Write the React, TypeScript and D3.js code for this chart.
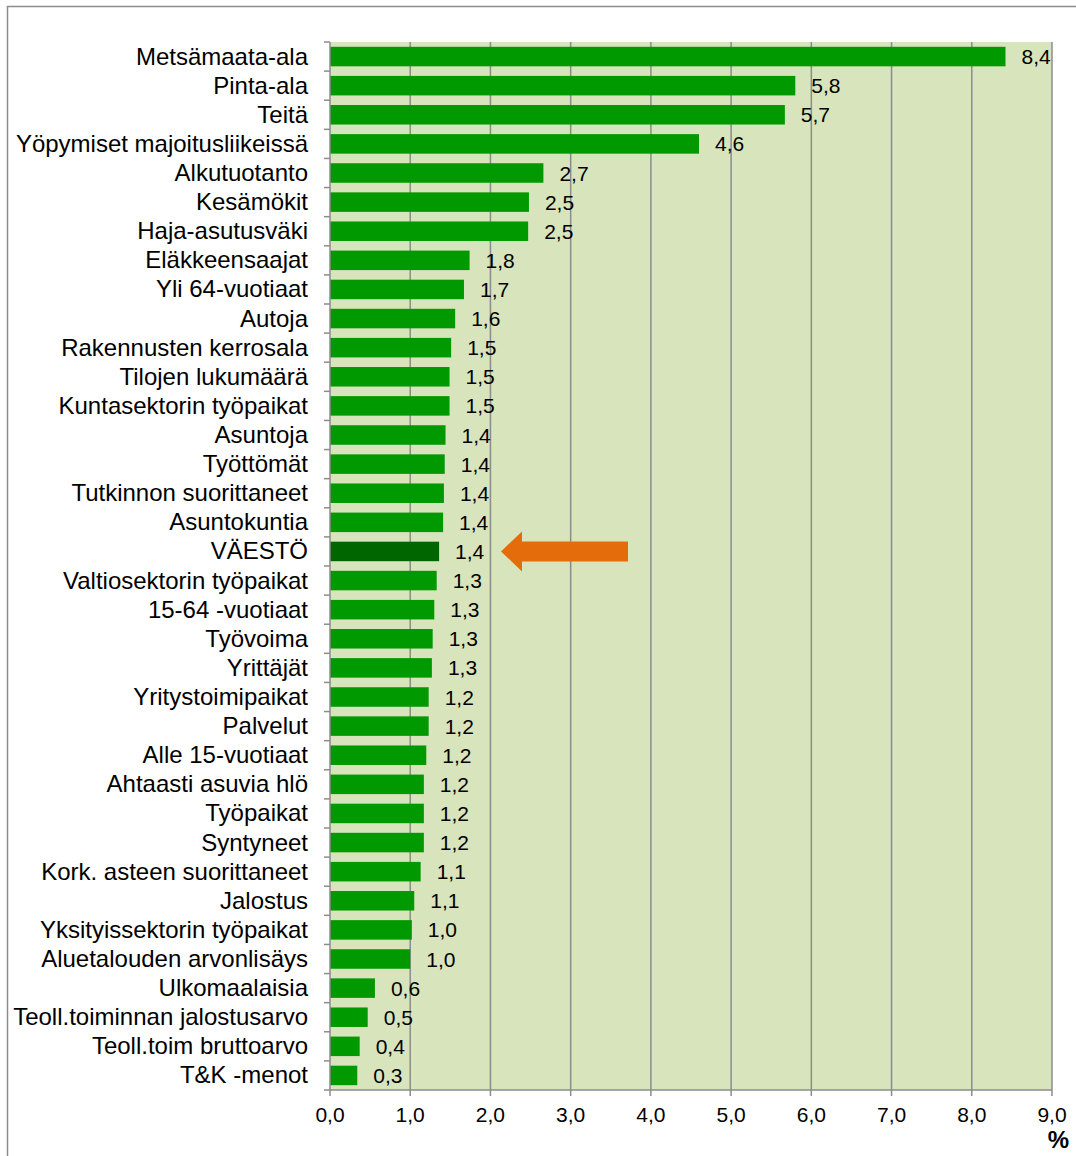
import React, { useRef, useEffect } from 'react';
import * as d3 from 'd3';

const categories = [
  'Metsämaata-ala', 'Pinta-ala', 'Teitä', 'Yöpymiset majoitusliikeissä', 'Alkutuotanto',
  'Kesämökit', 'Haja-asutusväki', 'Eläkkeensaajat', 'Yli 64-vuotiaat', 'Autoja',
  'Rakennusten kerrosala', 'Tilojen lukumäärä', 'Kuntasektorin työpaikat', 'Asuntoja', 'Työttömät',
  'Tutkinnon suorittaneet', 'Asuntokuntia', 'VÄESTÖ', 'Valtiosektorin työpaikat', '15-64 -vuotiaat',
  'Työvoima', 'Yrittäjät', 'Yritystoimipaikat', 'Palvelut', 'Alle 15-vuotiaat',
  'Ahtaasti asuvia hlö', 'Työpaikat', 'Syntyneet', 'Kork. asteen suorittaneet', 'Jalostus',
  'Yksityissektorin työpaikat', 'Aluetalouden arvonlisäys', 'Ulkomaalaisia', 'Teoll.toiminnan jalostusarvo', 'Teoll.toim bruttoarvo',
  'T&K -menot',
];

const values = [
  8.42, 5.80, 5.67, 4.60, 2.66,
  2.48, 2.47, 1.74, 1.67, 1.56,
  1.51, 1.49, 1.49, 1.44, 1.43,
  1.42, 1.41, 1.36, 1.33, 1.30,
  1.28, 1.27, 1.23, 1.23, 1.20,
  1.17, 1.17, 1.17, 1.13, 1.05,
  1.02, 1.00, 0.56, 0.47, 0.37,
  0.34,
];

const valueLabels = [
  '8,4', '5,8', '5,7', '4,6', '2,7',
  '2,5', '2,5', '1,8', '1,7', '1,6',
  '1,5', '1,5', '1,5', '1,4', '1,4',
  '1,4', '1,4', '1,4', '1,3', '1,3',
  '1,3', '1,3', '1,2', '1,2', '1,2',
  '1,2', '1,2', '1,2', '1,1', '1,1',
  '1,0', '1,0', '0,6', '0,5', '0,4',
  '0,3',
];

const xTicks = [0, 1, 2, 3, 4, 5, 6, 7, 8, 9];
const highlight = 'VÄESTÖ';

const W = 1076;
const H = 1156;

const App = () => {
  const svgRef = useRef<SVGSVGElement | null>(null);

  useEffect(() => {
    const svg = d3.select(svgRef.current);
    svg.selectAll('*').remove();

    const left = 330, right = 1052, top = 42, bottom = 1090;
    const font = 'Arial, "Liberation Sans", sans-serif';

    const x = d3.scaleLinear().domain([0, 9]).range([left, right]);
    const y = d3.scaleBand().domain(categories).range([top, bottom]).paddingInner(0.33).paddingOuter(0.165);

    // outer frame
    svg.append('path')
      .attr('d', `M7.5,${H + 20} V6.5 H${W + 5}`)
      .attr('fill', 'none')
      .attr('stroke', '#8c8c8c')
      .attr('stroke-width', 1.5);

    // plot background
    svg.append('rect')
      .attr('x', left).attr('y', top)
      .attr('width', right - left).attr('height', bottom - top)
      .attr('fill', '#d8e4bc');

    // vertical gridlines
    svg.append('g')
      .selectAll('line')
      .data(xTicks.slice(1))
      .enter().append('line')
      .attr('x1', d => x(d)).attr('x2', d => x(d))
      .attr('y1', top).attr('y2', bottom)
      .attr('stroke', '#8c8c8c')
      .attr('stroke-width', 1.5);

    // bars
    svg.append('g')
      .selectAll('rect')
      .data(categories)
      .enter().append('rect')
      .attr('x', x(0))
      .attr('y', d => y(d)!)
      .attr('width', (d, i) => x(values[i]) - x(0))
      .attr('height', y.bandwidth())
      .attr('fill', d => (d === highlight ? '#006600' : '#009900'));

    // value labels
    svg.append('g')
      .selectAll('text')
      .data(categories)
      .enter().append('text')
      .attr('x', (d, i) => x(values[i]) + 16)
      .attr('y', d => y(d)! + y.bandwidth() / 2 + 7.5)
      .attr('font-family', font)
      .attr('font-size', 21)
      .attr('fill', '#000')
      .text((d, i) => valueLabels[i]);

    // y axis line and ticks at category boundaries
    const yAxis = svg.append('g').attr('stroke', '#8c8c8c').attr('stroke-width', 1.5);
    yAxis.append('line')
      .attr('x1', left).attr('x2', left)
      .attr('y1', top).attr('y2', bottom);
    const step = (bottom - top) / categories.length;
    yAxis.selectAll('line.tick')
      .data(d3.range(categories.length + 1))
      .enter().append('line')
      .attr('class', 'tick')
      .attr('x1', left - 6).attr('x2', left)
      .attr('y1', d => top + d * step).attr('y2', d => top + d * step);

    // category labels
    svg.append('g')
      .selectAll('text')
      .data(categories)
      .enter().append('text')
      .attr('x', 308)
      .attr('y', d => y(d)! + y.bandwidth() / 2 + 8)
      .attr('text-anchor', 'end')
      .attr('font-family', font)
      .attr('font-size', 24)
      .attr('fill', '#000')
      .text(d => d);

    // x axis
    const xAxis = svg.append('g').attr('stroke', '#8c8c8c').attr('stroke-width', 1.5);
    xAxis.append('line')
      .attr('x1', left).attr('x2', right)
      .attr('y1', bottom).attr('y2', bottom);
    xAxis.selectAll('line.tick')
      .data(xTicks)
      .enter().append('line')
      .attr('class', 'tick')
      .attr('x1', d => x(d)).attr('x2', d => x(d))
      .attr('y1', bottom).attr('y2', bottom + 6);

    svg.append('g')
      .selectAll('text')
      .data(xTicks)
      .enter().append('text')
      .attr('x', d => x(d))
      .attr('y', bottom + 32)
      .attr('text-anchor', 'middle')
      .attr('font-family', font)
      .attr('font-size', 21)
      .attr('fill', '#000')
      .text(d => d3.format('.1f')(d).replace('.', ','));

    svg.append('text')
      .attr('x', 1069)
      .attr('y', 1148)
      .attr('text-anchor', 'end')
      .attr('font-family', font)
      .attr('font-size', 24)
      .attr('font-weight', 'bold')
      .text('%');

    // arrow pointing to highlighted bar
    const ay = y(highlight)! + y.bandwidth() / 2;
    svg.append('path')
      .attr('d', `M501,${ay} L522,${ay - 20} L522,${ay - 10} L628,${ay - 10} L628,${ay + 10} L522,${ay + 10} L522,${ay + 20} Z`)
      .attr('fill', '#e46c0a');
  }, []);

  return (
    <svg ref={svgRef} width={W} height={H} style={{ position: 'absolute', left: 0, top: 0, display: 'block' }} />
  );
};

export default App;
